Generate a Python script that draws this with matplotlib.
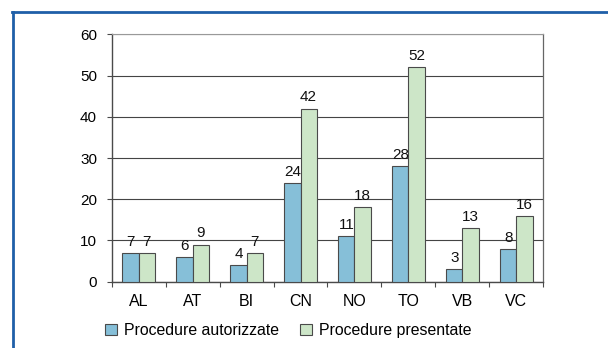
import numpy as np
import matplotlib.pyplot as plt
from matplotlib.lines import Line2D
from matplotlib.patches import Patch

province = ['AL', 'AT', 'BI', 'CN', 'NO', 'TO', 'VB', 'VC']
autorizzate = [7, 6, 4, 24, 11, 28, 3, 8]
presentate = [7, 9, 7, 42, 18, 52, 13, 16]

blu = '#86bfd8'
verde = '#cde6c8'
bordo = '#4a4a4a'

plt.rcParams['font.family'] = 'Liberation Sans'

fig = plt.figure(figsize=(6.08, 3.48), dpi=100)
ax = fig.add_axes([0.1837, 0.1905, 0.7099, 0.7109])

x = np.arange(len(province))
w = 0.3
b1 = ax.bar(x - w / 2, autorizzate, w, color=blu, edgecolor=bordo, linewidth=0.8, zorder=3)
b2 = ax.bar(x + w / 2, presentate, w, color=verde, edgecolor=bordo, linewidth=0.8, zorder=3)
ax.bar_label(b1, padding=3, fontsize=11, color='#111111')
ax.bar_label(b2, padding=3, fontsize=11, color='#111111')

ax.set_xlim(-0.5, len(province) - 0.5)
ax.set_ylim(0, 60)
ax.set_yticks(range(0, 61, 10))
ax.yaxis.grid(True, color='#444444', linewidth=0.8, zorder=0)
ax.set_axisbelow(True)

# categorie al centro, tacche sui bordi dei gruppi
ax.set_xticks(x)
ax.set_xticklabels(province, fontsize=11.5)
ax.tick_params(axis='x', length=0, pad=9)
ax.set_xticks(np.arange(-0.5, len(province)), minor=True)
ax.tick_params(axis='x', which='minor', length=3.6, width=0.8, color=bordo, direction='out')
ax.tick_params(axis='y', length=3.6, width=0.8, color=bordo, labelsize=11, pad=7)

for s in ['left', 'bottom']:
    ax.spines[s].set_color(bordo)
    ax.spines[s].set_linewidth(1.0)
ax.spines['top'].set_color('#999999')
ax.spines['top'].set_linewidth(0.8)
ax.spines['right'].set_color('#666666')
ax.spines['right'].set_linewidth(0.9)

handles = [Patch(facecolor=blu, edgecolor=bordo, linewidth=0.8),
           Patch(facecolor=verde, edgecolor=bordo, linewidth=0.8)]
fig.legend(handles, ['Procedure autorizzate', 'Procedure presentate'],
           loc='center', bbox_to_anchor=(0.474, 0.05), ncol=2, frameon=False,
           fontsize=11.4, handlelength=0.75, handleheight=0.75, handletextpad=0.45,
           columnspacing=1.3, borderpad=0)

# cornice blu in alto e a sinistra
fig.add_artist(Line2D([12 / 608, 1], [1 - 11.5 / 348] * 2, color='#1f5fa8', linewidth=2.0))
fig.add_artist(Line2D([12.5 / 608] * 2, [0, 1 - 11.5 / 348], color='#1f5fa8', linewidth=2.0))

fig.savefig('out.png', dpi=100)
